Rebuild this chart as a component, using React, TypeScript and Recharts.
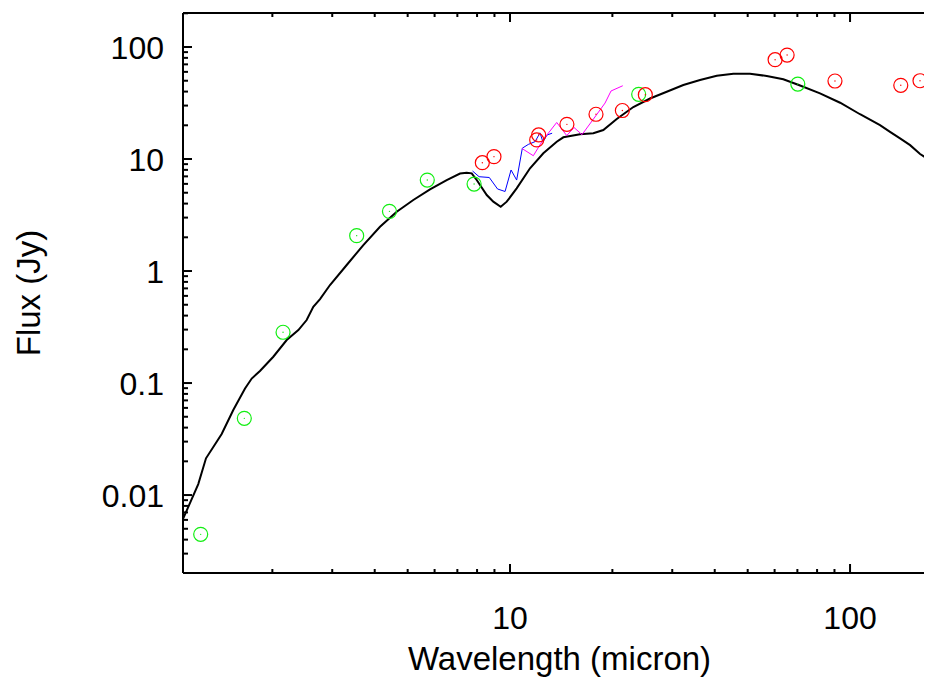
import React from 'react';
import { ComposedChart, Line, Scatter, XAxis, YAxis, Label } from 'recharts';

const X_DOMAIN: [number, number] = [1.092, 174.2];
const Y_DOMAIN: [number, number] = [0.002014, 201.2];

const xTicks = [2, 3, 4, 5, 6, 7, 8, 9, 10, 20, 30, 40, 50, 60, 70, 80, 90, 100];
const xMajor = [10, 100];
const yTicks = [
  0.003, 0.004, 0.005, 0.006, 0.007, 0.008, 0.009,
  0.01, 0.02, 0.03, 0.04, 0.05, 0.06, 0.07, 0.08, 0.09,
  0.1, 0.2, 0.3, 0.4, 0.5, 0.6, 0.7, 0.8, 0.9,
  1, 2, 3, 4, 5, 6, 7, 8, 9,
  10, 20, 30, 40, 50, 60, 70, 80, 90,
  100, 200,
];
const yMajor = [0.01, 0.1, 1, 10, 100];

// Model SED (black)
const modelWave = [
  1.094, 1.211, 1.276, 1.419, 1.535, 1.662, 1.739, 1.839, 2.013, 2.204, 2.385, 2.523,
  2.639, 2.762, 2.955, 3.309, 3.703, 4.146, 4.643, 5.195, 5.817, 6.513, 7.128, 7.457,
  7.715, 7.981, 8.542, 8.93, 9.39, 9.78, 10.46, 11.45, 12.53, 13.72, 14.35, 16.07,
  17.58, 18.81, 20.6, 23.05, 25.81, 28.9, 32.34, 36.21, 40.55, 45.38, 50.8, 56.9,
  63.65, 71.3, 81.6, 93.5, 107.0, 122.5, 131.1, 140.3, 150.2, 160.7, 174.2,
];
const modelFlux = [
  0.00619, 0.01254, 0.02128, 0.0351, 0.0574, 0.0893, 0.1097, 0.128, 0.1717, 0.242, 0.297, 0.365,
  0.48, 0.562, 0.75, 1.132, 1.706, 2.486, 3.383, 4.305, 5.36, 6.494, 7.42, 7.55,
  7.45, 6.494, 4.77, 4.16, 3.75, 4.16, 5.47, 8.26, 11.24, 14.27, 15.63, 16.62,
  16.96, 18.15, 22.76, 29.13, 34.7, 39.9, 45.8, 50.75, 55.4, 57.8, 57.8, 55.1,
  51.5, 45.3, 38.6, 31.8, 25.1, 20.1, 17.5, 15.3, 13.3, 11.08, 9.46,
];

// Green photometry
const greenWave = [1.231, 1.654, 2.15, 3.54, 4.42, 5.71, 7.84, 23.9, 70.2];
const greenFlux = [0.00446, 0.0484, 0.284, 2.07, 3.41, 6.49, 5.98, 37.8, 46.7];

// Red photometry
const redWave = [8.29, 8.97, 11.98, 12.14, 14.7, 17.9, 21.4, 25.0, 60.2, 65.3, 90.3, 141, 160.6];
const redFlux = [9.27, 10.5, 14.8, 16.4, 20.4, 25.1, 27.1, 37.5, 77.0, 84.8, 49.7, 45.5, 50.0];

// Blue spectrum
const blueWave = [7.76, 8.11, 8.69, 9.19, 9.67, 10.07, 10.46, 10.87, 11.32, 11.85, 12.25, 12.5, 12.85, 13.3];
const blueFlux = [7.81, 6.95, 6.84, 5.4, 5.13, 7.98, 6.49, 12.5, 13.5, 14.3, 17.1, 14.2, 16.4, 17.0];

// Magenta spectrum
const magWave = [10.85, 11.71, 12.5, 13.72, 14.68, 15.43, 16.28, 18.03, 19.03, 19.82, 21.46];
const magFlux = [12.4, 10.7, 14.8, 21.2, 16.2, 19.1, 16.5, 25.2, 31.6, 40.5, 45.1];

const zip = (xs: number[], ys: number[]) => xs.map((x, i) => ({ x, y: ys[i] }));

const modelData = zip(modelWave, modelFlux);
const greenData = zip(greenWave, greenFlux);
const redData = zip(redWave, redFlux);
const blueData = zip(blueWave, blueFlux);
const magData = zip(magWave, magFlux);

const FONT = '"Liberation Sans", Arial, Helvetica, sans-serif';
const FS = 32;
const TITLE_FS = 33;

const isMajor = (v: number, list: number[]) => list.some((m) => Math.abs(v / m - 1) < 1e-6);

const BottomTick = (props: any) => {
  const { x, y, payload } = props;
  const v = payload.value;
  const major = isMajor(v, xMajor);
  return (
    <g>
      <line x1={x} x2={x} y1={y} y2={y - (major ? 9 : 4)} stroke="#000" strokeWidth={2} />
      {major && (
        <text x={x} y={y + 56} textAnchor="middle" fontSize={FS} fontFamily={FONT} fill="#000">
          {String(v)}
        </text>
      )}
    </g>
  );
};

const TopTick = (props: any) => {
  const { x, y, payload } = props;
  const major = isMajor(payload.value, xMajor);
  return <line x1={x} x2={x} y1={y} y2={y + (major ? 9 : 4)} stroke="#000" strokeWidth={2} />;
};

const LeftTick = (props: any) => {
  const { x, y, payload } = props;
  const v = payload.value;
  const major = isMajor(v, yMajor);
  return (
    <g>
      <line x1={x} x2={x + (major ? 9 : 5)} y1={y} y2={y} stroke="#000" strokeWidth={2} />
      {major && (
        <text x={x - 19} y={y} dy="0.36em" textAnchor="end" fontSize={FS} fontFamily={FONT} fill="#000">
          {String(v)}
        </text>
      )}
    </g>
  );
};

const ring = (color: string) => (props: any) => {
  const { cx, cy } = props;
  if (cx == null || cy == null) return <g />;
  return (
    <g>
      <circle cx={cx} cy={cy} r={7} fill="none" stroke={color} strokeWidth={1.2} />
      <circle cx={cx} cy={cy} r={0.7} fill={color} />
    </g>
  );
};

const XTitle = (p: any) => {
  const vb = p.viewBox || {};
  return (
    <text x={vb.x + vb.width / 2 + 2} y={vb.y + 97} textAnchor="middle" fontSize={TITLE_FS} fontFamily={FONT} fill="#000">
      Wavelength (micron)
    </text>
  );
};

const YTitle = (p: any) => {
  const vb = p.viewBox || {};
  const cx = vb.x + 20;
  const cy = vb.y + vb.height / 2;
  return (
    <text
      x={cx}
      y={cy}
      dy="0.36em"
      transform={`rotate(-90, ${cx}, ${cy})`}
      textAnchor="middle"
      fontSize={TITLE_FS}
      fontFamily={FONT}
      fill="#000"
    >
      Flux (Jy)
    </text>
  );
};

export default function App() {
  return (
    <div style={{ width: 924, height: 669, background: '#fff', overflow: 'hidden' }}>
      <style>{'html, body { overflow: hidden; }'}</style>
      <ComposedChart width={924} height={669} margin={{ top: 4, right: 0, bottom: 0, left: 0 }}>
        <XAxis
          xAxisId="bottom"
          dataKey="x"
          type="number"
          scale="log"
          domain={X_DOMAIN}
          allowDataOverflow
          ticks={xTicks}
          interval={0}
          tick={<BottomTick />}
          tickLine={false}
          tickSize={0}
          tickMargin={0}
          height={104}
          axisLine={{ stroke: '#000', strokeWidth: 2 }}
        >
          <Label content={<XTitle />} />
        </XAxis>
        <XAxis
          xAxisId="top"
          orientation="top"
          dataKey="x"
          type="number"
          scale="log"
          domain={X_DOMAIN}
          allowDataOverflow
          ticks={xTicks}
          interval={0}
          tick={<TopTick />}
          tickLine={false}
          tickSize={0}
          tickMargin={0}
          height={1}
          axisLine={{ stroke: '#000', strokeWidth: 2 }}
        />
        <YAxis
          dataKey="y"
          type="number"
          scale="log"
          domain={Y_DOMAIN}
          allowDataOverflow
          ticks={yTicks}
          interval={0}
          tick={<LeftTick />}
          tickLine={false}
          tickSize={0}
          tickMargin={0}
          width={175}
          axisLine={{ stroke: '#000', strokeWidth: 2 }}
        >
          <Label content={<YTitle />} />
        </YAxis>
        <Line
          xAxisId="bottom"
          data={modelData}
          dataKey="y"
          type="linear"
          stroke="#000"
          strokeWidth={2}
          dot={false}
          activeDot={false}
          isAnimationActive={false}
        />
        <Line
          xAxisId="bottom"
          data={blueData}
          dataKey="y"
          type="linear"
          stroke="#0000ff"
          strokeWidth={1}
          dot={false}
          activeDot={false}
          isAnimationActive={false}
        />
        <Line
          xAxisId="bottom"
          data={magData}
          dataKey="y"
          type="linear"
          stroke="#ff00ff"
          strokeWidth={1}
          dot={false}
          activeDot={false}
          isAnimationActive={false}
        />
        <Scatter xAxisId="bottom" data={greenData} dataKey="y" shape={ring('#11ee11')} isAnimationActive={false} />
        <Scatter xAxisId="bottom" data={redData} dataKey="y" shape={ring('#ff0000')} isAnimationActive={false} />
      </ComposedChart>
    </div>
  );
}
